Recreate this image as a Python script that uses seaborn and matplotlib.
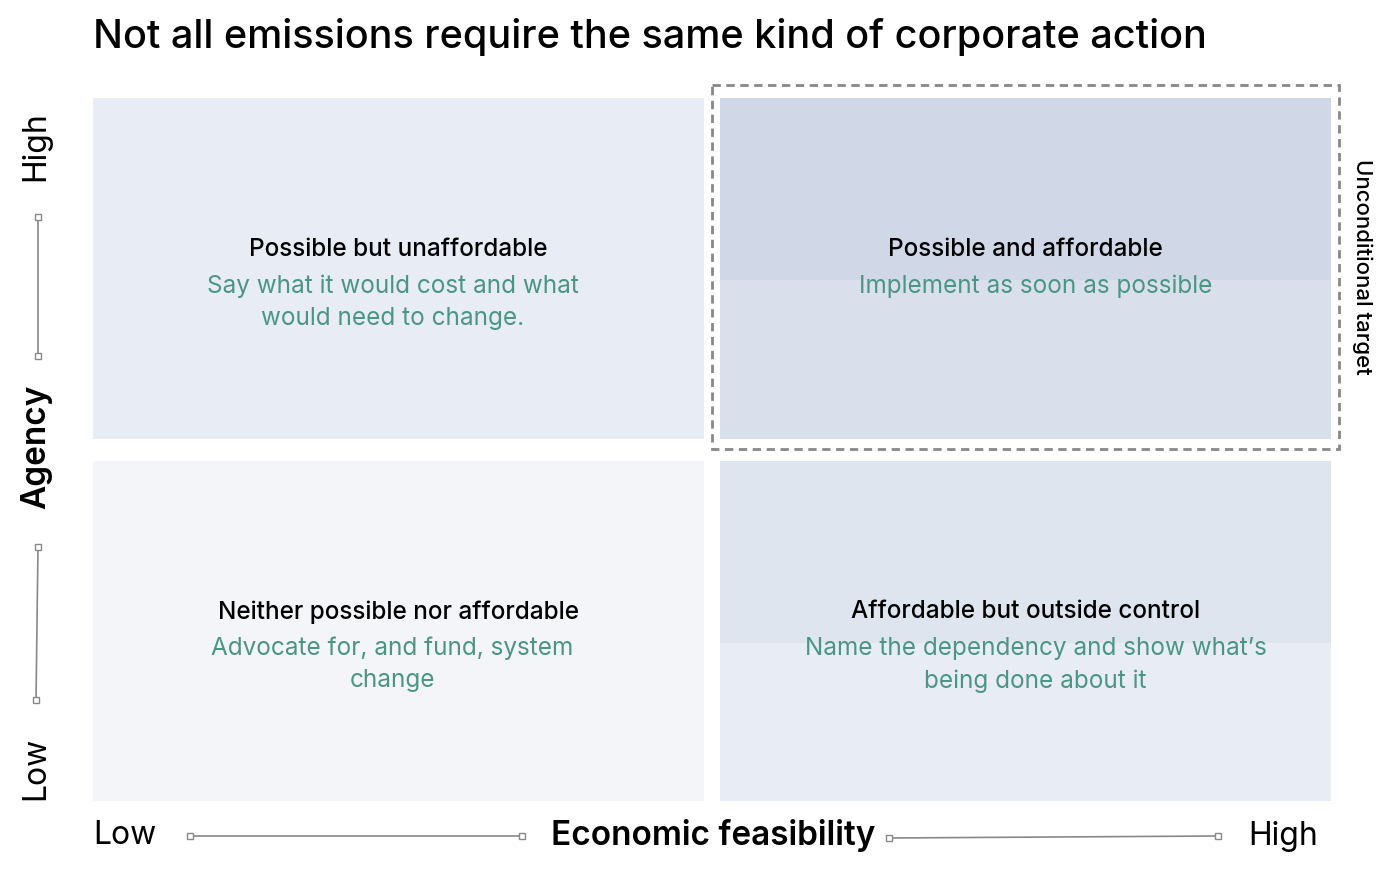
import matplotlib.pyplot as plt
import matplotlib.patches as mpatches
import seaborn as sns

sns.set_theme(style="white")
plt.rcParams['font.family'] = ['Inter', 'DejaVu Sans']

# quadrant content: (col, row) with row 0 = top
quad_pos = [(0, 0), (1, 0), (0, 1), (1, 1)]
quad_titles = ["Possible but unaffordable", "Possible and affordable",
               "Neither possible nor affordable", "Affordable but outside control"]
quad_notes = ["Say what it would cost and what\nwould need to change.",
              "Implement as soon as possible",
              "Advocate for, and fund, system\nchange",
              "Name the dependency and show what\u2019s\nbeing done about it"]
quad_fill = ["#e8ecf4", "#d9dfeb", "#f3f5f9", "#e8ecf4"]
quad_band = [None, "#d0d7e6", None, "#dfe5ef"]

x_edges = [(93, 704), (720, 1331)]
y_edges = [(98, 439), (461, 801)]

fig = plt.figure(figsize=(13.76, 8.91), dpi=100)
ax = fig.add_axes([0, 0, 1, 1])
ax.set_xlim(0, 1376)
ax.set_ylim(891, 0)
ax.axis('off')

teal = "#4a9584"
for (c, r), t, n, f, b in zip(quad_pos, quad_titles, quad_notes, quad_fill, quad_band):
    x0, x1 = x_edges[c]
    y0, y1 = y_edges[r]
    ax.add_patch(mpatches.Rectangle((x0, y0), x1 - x0, y1 - y0, color=f, lw=0))
    if b:
        ax.add_patch(mpatches.Rectangle((x0, y0), x1 - x0, 182, color=b, lw=0))
    cx = (x0 + x1) / 2
    ax.text(cx, y0 + 151, t, ha='center', va='center', fontsize=17.5,
            fontweight='medium', color='black')
    ax.text(cx + (10 if c == 1 else -6), y0 + 176, n, ha='center', va='top',
            fontsize=17.5, color=teal, linespacing=1.5)

ax.add_patch(mpatches.Rectangle((712, 85), 627, 364, fill=False, ec='#888888',
                                lw=2, ls=(0, (3, 2))))
ax.text(1362, 267, "Unconditional target", rotation=270, ha='center', va='center',
        fontsize=16, fontweight='medium', color='black')

ax.text(93, 37, "Not all emissions require the same kind of corporate action",
        ha='left', va='center', fontsize=28.5, fontweight='medium', color='black')

# axes decorations
line_col = '#888888'
for xs, ys in [((190, 522), (836, 836)), ((889, 1218), (838, 836)),
               ((38, 38), (217, 356)), ((38, 36), (547, 700))]:
    ax.plot(xs, ys, color=line_col, lw=1.2, marker='s', ms=4, mfc='white', mec=line_col)

ax.text(93, 836, "Low", ha='left', va='center', fontsize=23, color='black')
ax.text(1318, 836, "High", ha='right', va='center', fontsize=23, color='black')
ax.text(713, 836, "Economic feasibility", ha='center', va='center', fontsize=24,
        fontweight='semibold', color='black')
ax.text(36, 146, "High", rotation=90, ha='center', va='center', fontsize=23, color='black')
ax.text(36, 447, "Agency", rotation=90, ha='center', va='center', fontsize=24,
        fontweight='semibold', color='black')
ax.text(36, 768, "Low", rotation=90, ha='center', va='center', fontsize=23, color='black')

fig.savefig("out.png", dpi=100)
